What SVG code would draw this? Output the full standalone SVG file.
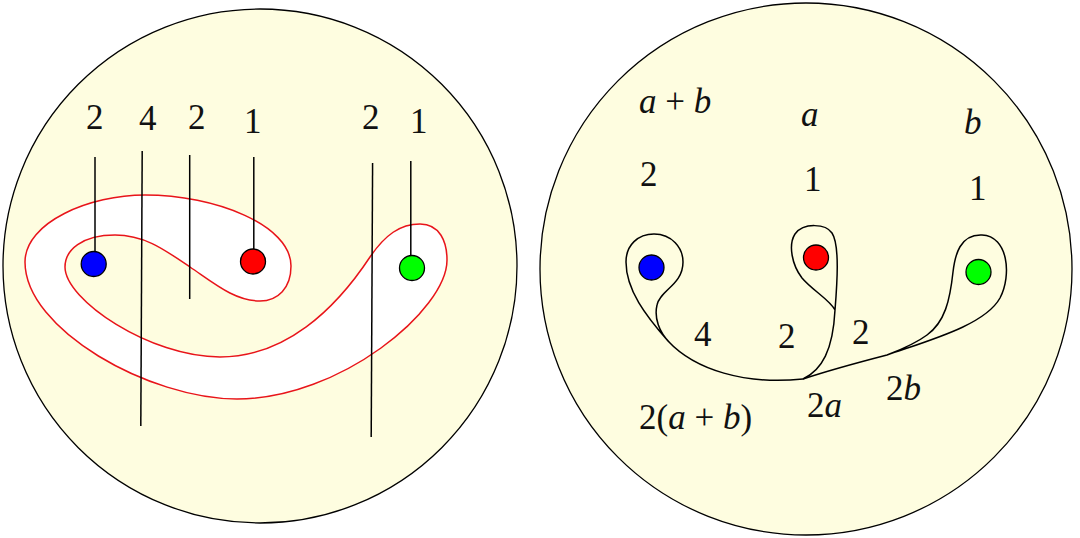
<svg xmlns="http://www.w3.org/2000/svg" width="1080" height="538" viewBox="0 0 1080 538">
<style>
text, tspan { font-family: "Liberation Serif", "Times New Roman", serif !important; font-size: 35px; fill: #111; }
.it { font-style: italic; }
.disk { fill: #fefde0; stroke: #000; stroke-width: 1.3; }
.ln { stroke: #000; stroke-width: 1.5; fill: none; }
.dot { stroke: #000; stroke-width: 1.3; }
</style>
<g id="left-panel">
<circle class="disk" cx="260" cy="266" r="257"/>
<path id="band" d="M 25 262 C 25 222, 90 195, 145 195 C 215 195, 291 225, 291 266 C 291 288, 278 301, 260 301 C 235 301, 215 284, 190 267 C 165 250, 145 235, 115 235 C 82 235, 65 250, 65 267 C 65 300, 150 357, 220 357 C 285 357, 335 310, 370 257 C 385 235, 400 224, 420 224 C 440 224, 447 242, 447 260 C 447 310, 340 399, 237 399 C 150 399, 25 330, 25 262 Z" fill="#fff" stroke="#e8141a" stroke-width="1.5"/>
<g id="strands">
<line class="ln" x1="95" y1="157" x2="95" y2="252"/>
<line class="ln" x1="142.2" y1="151" x2="140.8" y2="426"/>
<line class="ln" x1="189.7" y1="155" x2="189.7" y2="299"/>
<line class="ln" x1="253.8" y1="157" x2="253.8" y2="249"/>
<line class="ln" x1="372.6" y1="163" x2="371.2" y2="437"/>
<line class="ln" x1="410.8" y1="161" x2="410.8" y2="256"/>
</g>
<circle id="l-blue" class="dot" cx="93.7" cy="264" r="12.5" fill="#0000ff"/>
<circle id="l-red" class="dot" cx="253" cy="261.5" r="12.5" fill="#ff0000"/>
<circle id="l-green" class="dot" cx="412" cy="268" r="12.5" fill="#00ff00"/>
<g id="left-labels">
<text x="86" y="129" font-family="Liberation Serif">2</text>
<text x="139" y="130" font-family="Liberation Serif">4</text>
<text x="188" y="129" font-family="Liberation Serif">2</text>
<text x="244" y="133" font-family="Liberation Serif">1</text>
<text x="362" y="129" font-family="Liberation Serif">2</text>
<text x="410" y="133" font-family="Liberation Serif">1</text>
</g>
</g>
<g id="right-panel">
<circle class="disk" cx="806" cy="269" r="266"/>
<g id="connectors">
<path id="blue-loop" class="ln" d="M 803 379 C 745 385, 695 370, 668 341 C 646 316, 626 290, 626 262 C 626 245, 638 234, 654 234 C 672 234, 683 248, 683 262 C 683 285, 660 290, 657 305 C 654 318, 659 332, 670 343"/>
<path id="red-loop" class="ln" d="M 803 379 C 822 370, 833 350, 835 310 C 837 285, 840 245, 832 233 C 826 224, 804 222, 795 234 C 788 245, 792 265, 802 278 C 812 290, 830 300, 835 310"/>
<path id="green-loop" class="ln" d="M 803 379 C 830 370, 860 362, 887 355 C 930 340, 985 325, 1000 298 C 1012 275, 1008 236, 982 235 C 960 234, 955 255, 953 272 C 950 300, 945 322, 927 335 C 915 344, 900 350, 887 355"/>
</g>
<circle id="r-blue" class="dot" cx="651.5" cy="267.5" r="12.5" fill="#0000ff"/>
<circle id="r-red" class="dot" cx="816" cy="257.5" r="12.5" fill="#ff0000"/>
<circle id="r-green" class="dot" cx="978.5" cy="272" r="12.5" fill="#00ff00"/>
<g id="right-labels">
<text x="639" y="113" font-family="Liberation Serif"><tspan class="it">a</tspan> + <tspan class="it">b</tspan></text>
<text class="it" x="801" y="126" font-family="Liberation Serif">a</text>
<text class="it" x="964" y="134" font-family="Liberation Serif">b</text>
<text x="640" y="186" font-family="Liberation Serif">2</text>
<text x="804" y="191" font-family="Liberation Serif">1</text>
<text x="969" y="200" font-family="Liberation Serif">1</text>
<text x="694" y="346" font-family="Liberation Serif">4</text>
<text x="778" y="348" font-family="Liberation Serif">2</text>
<text x="852" y="344" font-family="Liberation Serif">2</text>
<text x="886" y="400" font-family="Liberation Serif">2<tspan class="it">b</tspan></text>
<text x="807" y="417" font-family="Liberation Serif">2<tspan class="it">a</tspan></text>
<text x="639" y="429" font-family="Liberation Serif">2(<tspan class="it">a</tspan> + <tspan class="it">b</tspan>)</text>
</g>
</g>
</svg>
